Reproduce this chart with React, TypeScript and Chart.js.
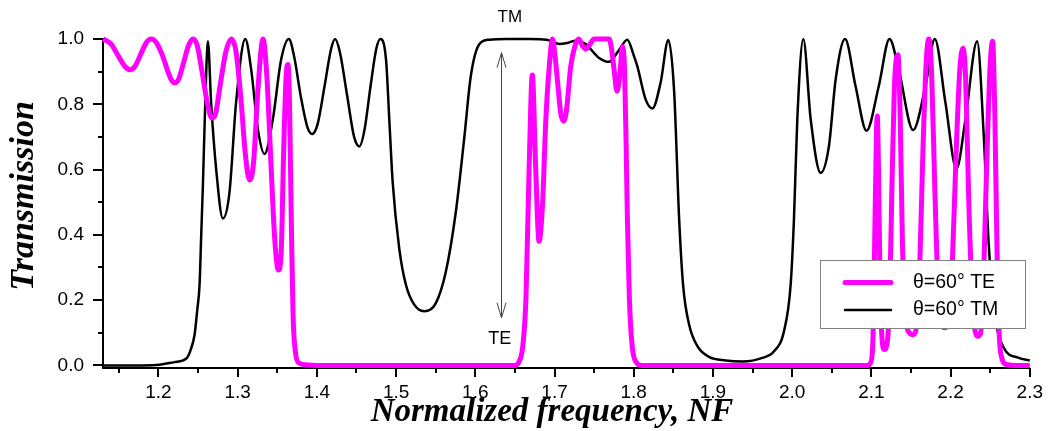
import React, { useEffect, useRef } from "react";
import { Chart, registerables } from "chart.js";

Chart.register(...registerables);

// ---- data ----
const TE_FREQ = [
  1.13, 1.14, 1.15, 1.158, 1.164, 1.17, 1.178, 1.185, 1.191, 1.197, 1.205, 1.212, 1.217, 1.221, 1.226,
  1.232, 1.238, 1.2435, 1.249, 1.255, 1.262, 1.2675, 1.272, 1.278, 1.285, 1.292, 1.298, 1.304, 1.31,
  1.315, 1.32, 1.326, 1.332, 1.337, 1.342, 1.347, 1.3515, 1.355, 1.358, 1.3615, 1.3635, 1.3655, 1.368,
  1.37, 1.373, 1.377, 1.385, 1.4, 1.65, 1.655, 1.66, 1.664, 1.668, 1.672, 1.676, 1.6805, 1.685, 1.689,
  1.6935, 1.6975, 1.701, 1.704, 1.708, 1.7115, 1.715, 1.7205, 1.726, 1.7305, 1.735, 1.7395, 1.745, 1.75,
  1.769, 1.772, 1.7755, 1.7788, 1.782, 1.786, 1.7885, 1.7905, 1.792, 1.7945, 1.798, 1.803, 1.81, 2.095,
  2.099, 2.102, 2.104, 2.1065, 2.1075, 2.109, 2.111, 2.1135, 2.1165, 2.12, 2.123, 2.126, 2.129, 2.1335,
  2.1365, 2.139, 2.143, 2.148, 2.1525, 2.157, 2.161, 2.165, 2.169, 2.1725, 2.176, 2.18, 2.184, 2.188,
  2.1925, 2.197, 2.202, 2.207, 2.2115, 2.2155, 2.219, 2.223, 2.228, 2.2315, 2.2345, 2.238, 2.242, 2.246,
  2.25, 2.253, 2.256, 2.259, 2.2615, 2.265, 2.27, 2.28, 2.3,
];
const TE_TRANS = [
  1.0, 0.985, 0.945, 0.915, 0.906, 0.915, 0.955, 0.99, 1.0, 0.99, 0.95, 0.9, 0.872, 0.866, 0.88,
  0.93, 0.98, 1.0, 0.98, 0.9, 0.8, 0.758, 0.77, 0.86, 0.96, 1.0, 0.96, 0.82, 0.64,
  0.568, 0.62, 0.86, 1.0, 0.88, 0.62, 0.38, 0.292, 0.35, 0.65, 0.9, 0.922, 0.8, 0.4,
  0.15, 0.04, 0.008, 0.002, 0, 0, 0.01, 0.06, 0.21, 0.61, 0.89, 0.62, 0.38, 0.5, 0.75,
  0.92, 1.0, 0.94, 0.866, 0.77, 0.749, 0.78, 0.917, 0.98, 1.0, 0.98, 0.969, 0.985, 1.0,
  1.0, 0.97, 0.9, 0.84, 0.88, 0.977, 0.9, 0.663, 0.45, 0.206, 0.06, 0.01, 0, 0,
  0.008, 0.08, 0.35, 0.72, 0.764, 0.6, 0.25, 0.08, 0.049, 0.07, 0.2, 0.55, 0.85, 0.952,
  0.75, 0.4, 0.15, 0.1, 0.094, 0.12, 0.3, 0.65, 0.92, 1.0, 0.9, 0.55, 0.25, 0.13,
  0.115, 0.13, 0.3, 0.65, 0.9, 0.972, 0.88, 0.5, 0.17, 0.1, 0.089, 0.1, 0.3, 0.65,
  0.92, 0.993, 0.75, 0.3, 0.09, 0.02, 0.003, 0, 0,
];
const TM_FREQ = [
  1.13, 1.18, 1.2015, 1.22, 1.2352, 1.241, 1.2456, 1.249, 1.2519, 1.254, 1.2561, 1.2591, 1.2624, 1.2666,
  1.2729, 1.2813, 1.2897, 1.298, 1.3096, 1.3171, 1.3255, 1.3339, 1.3444, 1.3549, 1.3646, 1.371, 1.38,
  1.388, 1.394, 1.401, 1.41, 1.418, 1.423, 1.429, 1.438, 1.447, 1.4537, 1.46, 1.468, 1.475, 1.48,
  1.4873, 1.4915, 1.4957, 1.504, 1.5124, 1.5229, 1.5355, 1.5502, 1.5628, 1.5754, 1.5859, 1.5943, 1.6048,
  1.6174, 1.64, 1.67, 1.69, 1.7057, 1.716, 1.7267, 1.739, 1.7562, 1.7688, 1.7814, 1.7919, 1.8, 1.8045,
  1.815, 1.8236, 1.8339, 1.8437, 1.851, 1.8573, 1.8623, 1.8699, 1.8804, 1.8951, 1.9162, 1.9372, 1.9624,
  1.9771, 1.9897, 1.9981, 2.0023, 2.0065, 2.0141, 2.0234, 2.036, 2.0465, 2.0549, 2.0668, 2.08, 2.0939,
  2.1094, 2.1229, 2.1346, 2.1527, 2.1683, 2.1801, 2.1935, 2.2074, 2.2188, 2.2335, 2.2419, 2.2482, 2.2566,
  2.2671, 2.286, 2.3,
];
const TM_TRANS = [
  0, 0, 0.002, 0.01, 0.021, 0.05, 0.094, 0.17, 0.247, 0.4, 0.551, 0.805, 0.993, 0.8,
  0.6, 0.45, 0.531, 0.805, 1.0, 0.906, 0.724, 0.648, 0.754, 0.937, 1.0, 0.95, 0.82,
  0.73, 0.709, 0.74, 0.86, 0.97, 1.0, 0.96, 0.83, 0.7, 0.671, 0.72, 0.86, 0.97, 1.0,
  0.937, 0.75, 0.561, 0.358, 0.247, 0.186, 0.166, 0.191, 0.287, 0.47, 0.693, 0.886, 0.983,
  0.998, 1.0, 1.0, 0.998, 0.985, 0.988, 0.995, 0.985, 0.942, 0.93, 0.966, 0.998, 0.95, 0.917,
  0.815, 0.787, 0.866, 0.997, 0.84, 0.45, 0.247, 0.125, 0.059, 0.026, 0.015, 0.012, 0.023,
  0.043, 0.105, 0.247, 0.45, 0.754, 1.0, 0.754, 0.59, 0.673, 0.876, 1.0, 0.856, 0.719,
  0.856, 1.0, 0.906, 0.721, 0.856, 1.0, 0.805, 0.602, 0.754, 0.993, 0.703, 0.369, 0.145,
  0.054, 0.023, 0.015,
];

const X_TICKS = [1.2, 1.3, 1.4, 1.5, 1.6, 1.7, 1.8, 1.9, 2.0, 2.1, 2.2, 2.3];
const X_MINOR = [1.15, 1.25, 1.35, 1.45, 1.55, 1.65, 1.75, 1.85, 1.95, 2.05, 2.15, 2.25];
const Y_TICKS = [0, 0.2, 0.4, 0.6, 0.8, 1.0];
const Y_MINOR = [0.1, 0.3, 0.5, 0.7, 0.9];
const SERIES_LABELS = ["\u03b8=60\u00b0 TE", "\u03b8=60\u00b0 TM"];
const X_TITLE = "Normalized frequency, NF";
const Y_TITLE = "Transmission";
const NOTE_TOP = "TM";
const NOTE_BOTTOM = "TE";
// arrow annotation in data coordinates: x, y from, y to
const ARROW = [1.632, 0.958, 0.146];
const NOTE_TOP_POS = [1.6436, 1.065];
const NOTE_BOTTOM_POS = [1.631, 0.082];

const SANS = "'Liberation Sans', Arial, sans-serif";
const SERIF = "'Liberation Serif', 'Times New Roman', serif";

const decorPlugin = {
  id: "decor",
  afterDatasetsDraw(chart: any) {
    const ctx = chart.ctx as CanvasRenderingContext2D;
    const xs = chart.scales.x;
    const ys = chart.scales.y;
    const ca = chart.chartArea;
    ctx.save();
    // ticks
    ctx.strokeStyle = "#000";
    ctx.lineWidth = 2;
    ctx.beginPath();
    X_TICKS.forEach((v) => {
      const p = Math.round(xs.getPixelForValue(v));
      ctx.moveTo(p, ca.bottom);
      ctx.lineTo(p, ca.bottom + 9);
    });
    X_MINOR.forEach((v) => {
      const p = Math.round(xs.getPixelForValue(v));
      ctx.moveTo(p, ca.bottom);
      ctx.lineTo(p, ca.bottom + 5);
    });
    Y_TICKS.forEach((v) => {
      const p = Math.round(ys.getPixelForValue(v));
      ctx.moveTo(ca.left, p);
      ctx.lineTo(ca.left - 10, p);
    });
    Y_MINOR.forEach((v) => {
      const p = Math.round(ys.getPixelForValue(v));
      ctx.moveTo(ca.left, p);
      ctx.lineTo(ca.left - 5, p);
    });
    ctx.stroke();

    // arrow
    const ax = Math.round(xs.getPixelForValue(ARROW[0])) + 0.5;
    const ay1 = ys.getPixelForValue(ARROW[1]);
    const ay2 = ys.getPixelForValue(ARROW[2]);
    ctx.strokeStyle = "#444";
    ctx.lineWidth = 1;
    ctx.beginPath();
    ctx.moveTo(ax, ay1);
    ctx.lineTo(ax, ay2);
    ctx.moveTo(ax - 4.5, ay1 + 15);
    ctx.lineTo(ax, ay1);
    ctx.lineTo(ax + 4.5, ay1 + 15);
    ctx.moveTo(ax - 4.5, ay2 - 15);
    ctx.lineTo(ax, ay2);
    ctx.lineTo(ax + 4.5, ay2 - 15);
    ctx.stroke();

    // notes
    ctx.fillStyle = "#000";
    ctx.textAlign = "center";
    ctx.textBaseline = "middle";
    ctx.font = `17px ${SANS}`;
    ctx.fillText(NOTE_TOP, xs.getPixelForValue(NOTE_TOP_POS[0]), ys.getPixelForValue(NOTE_TOP_POS[1]));
    ctx.font = `18px ${SANS}`;
    ctx.fillText(NOTE_BOTTOM, xs.getPixelForValue(NOTE_BOTTOM_POS[0]), ys.getPixelForValue(NOTE_BOTTOM_POS[1]));

    // legend
    const lx = 820, ly = 260, lw = 205, lh = 68;
    ctx.fillStyle = "#fff";
    ctx.fillRect(lx, ly, lw, lh);
    ctx.strokeStyle = "#808080";
    ctx.lineWidth = 1;
    ctx.strokeRect(lx + 0.5, ly + 0.5, lw, lh);
    const ds = chart.data.datasets;
    const rows = [282.5, 310];
    rows.forEach((ry, i) => {
      ctx.strokeStyle = ds[i].borderColor;
      ctx.lineWidth = ds[i].borderWidth;
      ctx.lineCap = "round";
      ctx.beginPath();
      ctx.moveTo(845, ry);
      ctx.lineTo(891, ry);
      ctx.stroke();
      ctx.fillStyle = "#000";
      ctx.textAlign = "left";
      ctx.textBaseline = "middle";
      ctx.font = `19.5px ${SANS}`;
      ctx.fillText(SERIES_LABELS[i], 913, ry);
    });

    // axis titles
    ctx.fillStyle = "#000";
    ctx.textAlign = "center";
    ctx.textBaseline = "alphabetic";
    ctx.font = `bold italic 33px ${SERIF}`;
    ctx.fillText(X_TITLE, 552, 421);
    ctx.save();
    ctx.translate(33, 196);
    ctx.rotate(-Math.PI / 2);
    ctx.font = `bold italic 34px ${SERIF}`;
    ctx.fillText(Y_TITLE, 0, 0);
    ctx.restore();
    ctx.restore();
  },
};

export default function App() {
  const ref = useRef<HTMLCanvasElement | null>(null);
  useEffect(() => {
    document.body.style.margin = "0";
    const canvas = ref.current;
    if (!canvas) return;
    const chart = new Chart(canvas, {
      type: "line",
      data: {
        datasets: [
          {
            label: SERIES_LABELS[0],
            data: TE_FREQ.map((f, i) => ({ x: f, y: TE_TRANS[i] })),
            borderColor: "#ff00ff",
            borderWidth: 5,
            pointRadius: 0,
            cubicInterpolationMode: "monotone",
            fill: false,
            clip: false as any,
          },
          {
            label: SERIES_LABELS[1],
            data: TM_FREQ.map((f, i) => ({ x: f, y: TM_TRANS[i] })),
            borderColor: "#000000",
            borderWidth: 2.5,
            pointRadius: 0,
            cubicInterpolationMode: "monotone",
            fill: false,
            clip: false as any,
          },
        ],
      },
      options: {
        responsive: false,
        animation: false,
        devicePixelRatio: 1,
        layout: { padding: { top: 39, right: 18, left: 0, bottom: 0 } },
        plugins: { legend: { display: false }, tooltip: { enabled: false }, title: { display: false } },
        scales: {
          x: {
            type: "linear",
            min: 1.13,
            max: 2.3,
            grid: { display: false },
            border: { display: true, color: "#000", width: 2 },
            afterBuildTicks: (s: any) => {
              s.ticks = X_TICKS.map((v) => ({ value: v }));
            },
            afterFit: (s: any) => {
              s.height = 63;
            },
            ticks: {
              autoSkip: false,
              maxRotation: 0,
              padding: 5,
              color: "#000",
              font: { family: SANS, size: 19 },
              callback: (v: any) => Number(v).toFixed(1),
            },
          },
          y: {
            type: "linear",
            min: -0.008,
            max: 1.0,
            grid: { display: false },
            border: { display: true, color: "#000", width: 2 },
            afterBuildTicks: (s: any) => {
              s.ticks = Y_TICKS.map((v) => ({ value: v }));
            },
            afterFit: (s: any) => {
              s.width = 103;
            },
            ticks: {
              padding: 11,
              color: "#000",
              font: { family: SANS, size: 19 },
              callback: (v: any) => Number(v).toFixed(1),
            },
          },
        },
      },
      plugins: [decorPlugin],
    });
    return () => chart.destroy();
  }, []);
  return <canvas ref={ref} width={1048} height={431} style={{ display: "block" }} />;
}
